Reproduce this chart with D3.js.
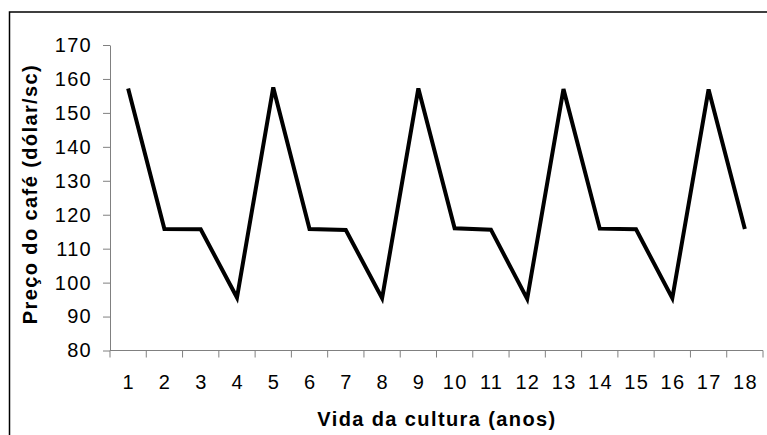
<!DOCTYPE html>
<html lang="pt">
<head>
<meta charset="UTF-8">
<title>Preço do café</title>
<style>
  body { margin: 0; padding: 0; background: #fff; }
  svg { display: block; font-family: "Liberation Sans", Arial, sans-serif; }
  .axis path, .axis line { stroke: #808080; }
  .axis text { fill: #000; font-size: 20px; letter-spacing: 1.3px; }
  .title { font-weight: bold; font-size: 20px; letter-spacing: 1.4px; }
</style>
</head>
<body>
<script src="https://d3js.org/d3.v7.min.js"></script>
<script>
  var years = ["1","2","3","4","5","6","7","8","9","10","11","12","13","14","15","16","17","18"];
  var prices = [157.2, 115.8, 115.7, 95.6, 157.5, 115.8, 115.5, 95.4, 157.2, 116.0, 115.6, 95.2, 157.0, 115.9, 115.7, 95.4, 156.9, 115.8];
  var yTicks = [80, 90, 100, 110, 120, 130, 140, 150, 160, 170];

  var width = 767, height = 435;
  var plotLeft = 110, plotRight = 763, plotTop = 45, plotBottom = 350.5;

  var svg = d3.select("body").append("svg")
    .attr("width", width)
    .attr("height", height);

  // frame (runs off the right and bottom of the picture)
  svg.append("rect")
    .attr("x", 9.5).attr("y", 12)
    .attr("width", 800).attr("height", 500)
    .attr("fill", "none").attr("stroke", "#000").attr("stroke-width", 1.5);

  var x = d3.scaleBand().domain(years).range([plotLeft, plotRight]).padding(0);
  var y = d3.scaleLinear().domain([80, 170]).range([plotBottom, plotTop]);

  // y axis
  svg.append("g")
    .attr("class", "axis")
    .attr("transform", "translate(" + plotLeft + ",0)")
    .call(d3.axisLeft(y).tickValues(yTicks).tickSize(7).tickSizeOuter(0).tickPadding(11));

  // x axis: labels centred in categories, tick marks on category edges
  var gx = svg.append("g")
    .attr("class", "axis")
    .attr("transform", "translate(0," + plotBottom + ")")
    .call(d3.axisBottom(x).tickSize(0).tickPadding(24));
  gx.select(".domain").attr("d", "M" + plotLeft + ",0H" + plotRight);
  gx.selectAll(".tick text").attr("dx", "0.65px");
  gx.selectAll(".edge")
    .data(d3.range(years.length + 1))
    .enter().append("line")
    .attr("class", "edge")
    .attr("x1", function (i) { return plotLeft + i * x.step(); })
    .attr("x2", function (i) { return plotLeft + i * x.step(); })
    .attr("y1", 0).attr("y2", 7);

  // series
  var line = d3.line()
    .x(function (d, i) { return x(years[i]) + x.bandwidth() / 2; })
    .y(function (d) { return y(d); });

  svg.append("path")
    .datum(prices)
    .attr("d", line)
    .attr("fill", "none")
    .attr("stroke", "#000")
    .attr("stroke-width", 4)
    .attr("stroke-linejoin", "miter");

  // titles
  svg.append("text")
    .attr("class", "title")
    .attr("x", 437).attr("y", 426)
    .attr("text-anchor", "middle")
    .text("Vida da cultura (anos)");

  svg.append("text")
    .attr("class", "title")
    .attr("transform", "translate(37,194) rotate(-90)")
    .attr("text-anchor", "middle")
    .text("Preço do café (dólar/sc)");
</script>
</body>
</html>
